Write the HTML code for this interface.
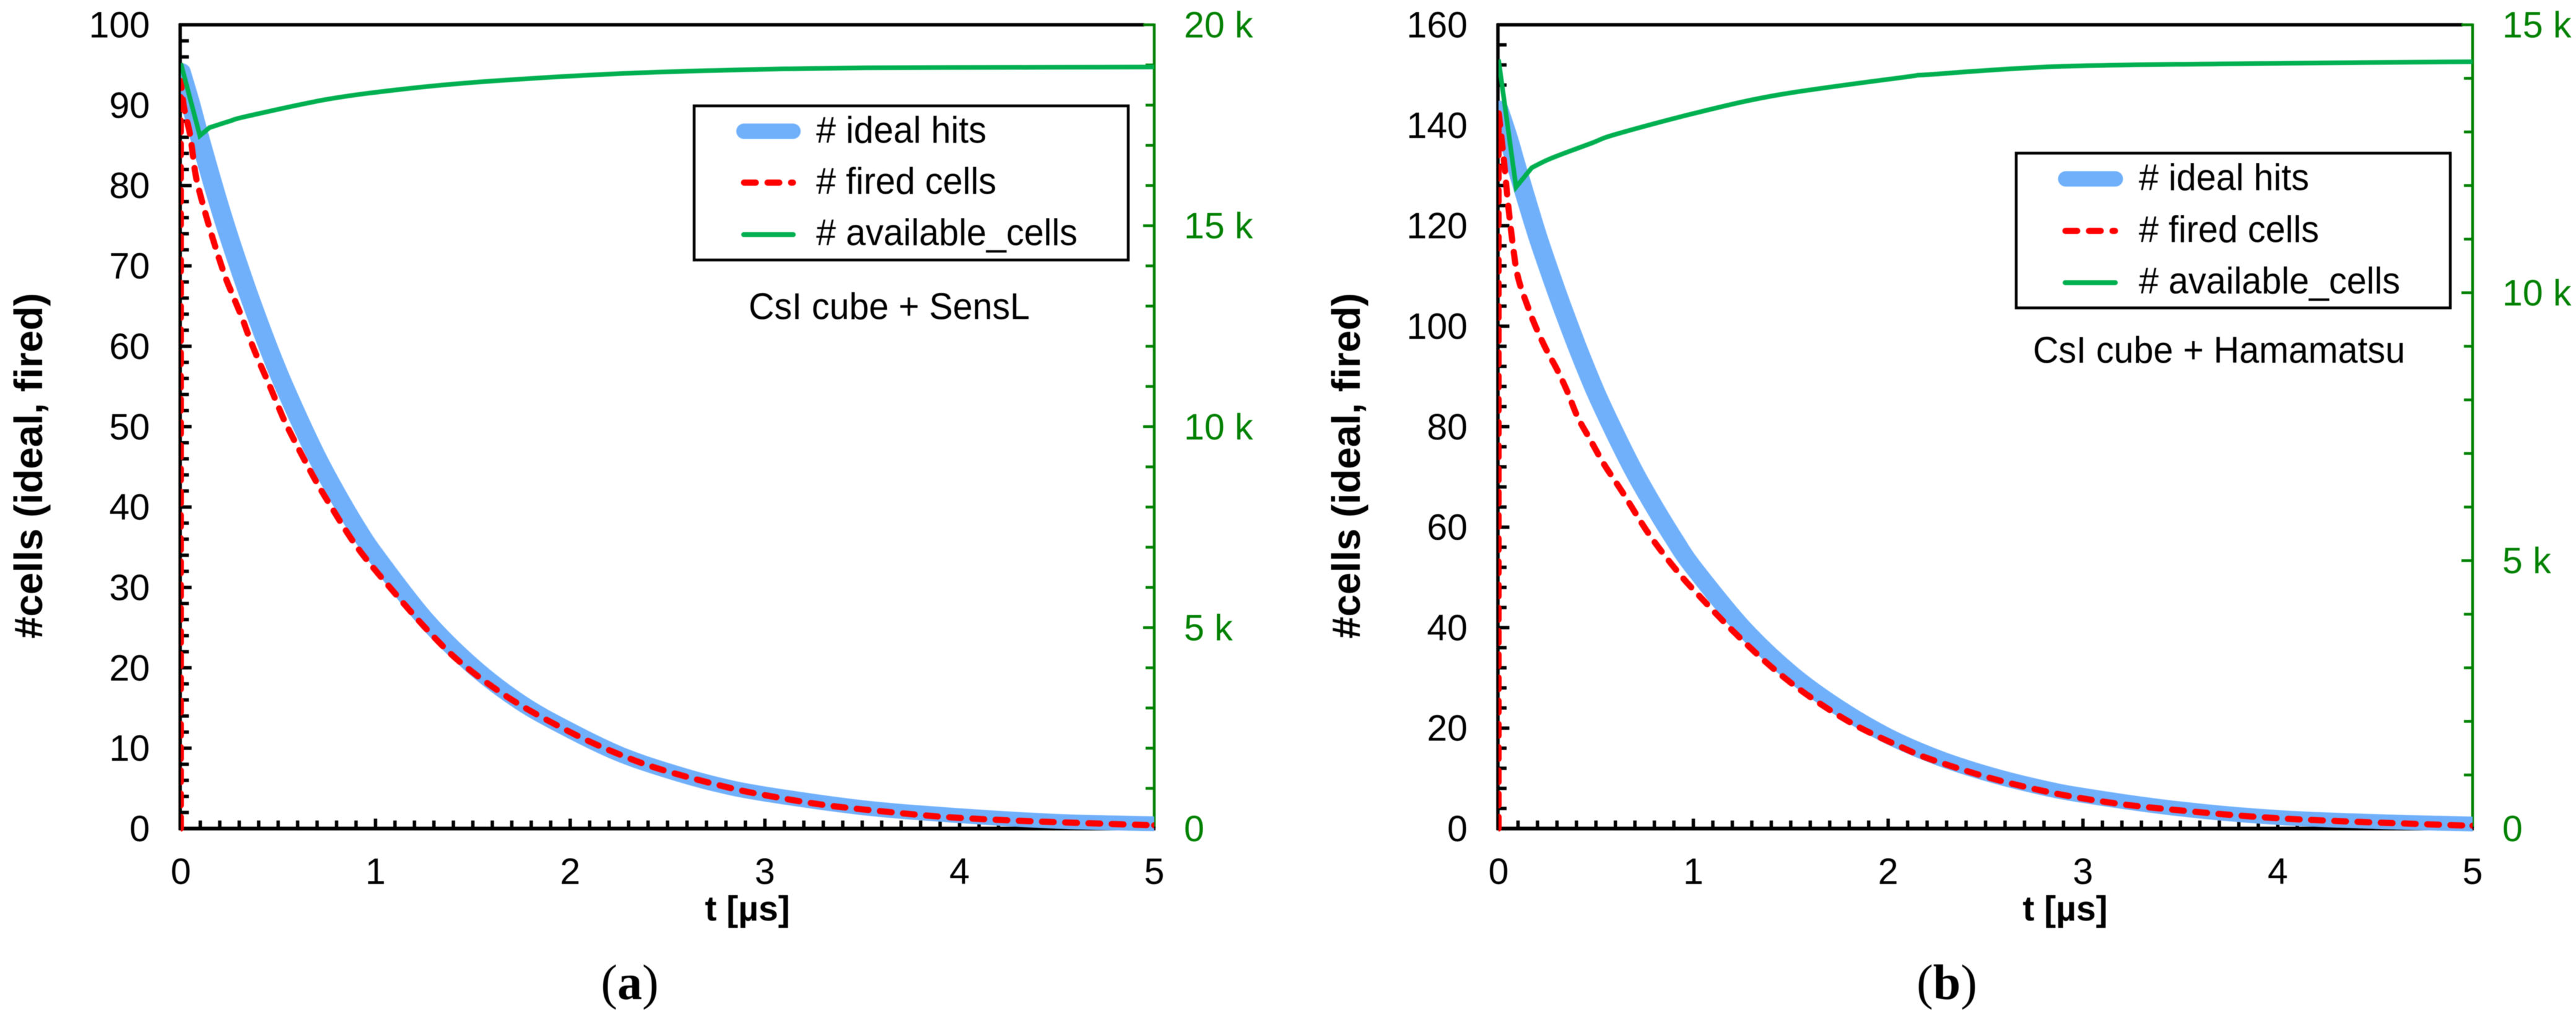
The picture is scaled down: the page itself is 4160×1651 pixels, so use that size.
<!DOCTYPE html>
<html lang="en">
<head>
<meta charset="utf-8">
<title>Cell occupancy over time</title>
<style>
html,body{margin:0;padding:0;background:#fff;width:4160px;height:1651px;overflow:hidden}
svg{display:block;filter:blur(0.6px)}
text{font-family:"Liberation Sans",sans-serif}
.tick-text{font-size:59px;fill:#000}
.green-text{font-size:59px;fill:#008000}
.title{font-size:57px;font-weight:bold;fill:#000}
.ytitle{font-size:64px;font-weight:bold;fill:#000}
.leg{font-size:60px;fill:#000}
.cap{font-family:"Liberation Serif",serif;font-size:80px;fill:#000}
</style>
</head>
<body>
<svg xmlns="http://www.w3.org/2000/svg" width="4160" height="1651" viewBox="0 0 4160 1651">
  <rect width="4160" height="1651" fill="#fff"/>
  <defs>
    <clipPath id="clip-a"><rect x="292" y="30" width="1572" height="1320"/></clipPath>
    <clipPath id="clip-b"><rect x="2420" y="30" width="1573" height="1320"/></clipPath>
  </defs>

  <g id="panel-a">
    <line x1="289" y1="40" x2="1848" y2="40" stroke="#000" stroke-width="5.5"/>
    <line x1="291" y1="38" x2="291" y2="1341" stroke="#000" stroke-width="5.5"/>
    <line x1="1864" y1="38" x2="1864" y2="1338" stroke="#008000" stroke-width="4.5"/>
    <line x1="289" y1="1338.5" x2="1866" y2="1338.5" stroke="#000" stroke-width="6"/>
    <g id="ticks-a"></g>
    <g id="series-a" clip-path="url(#clip-a)"></g>
    <text class="title" x="1207" y="1487" text-anchor="middle">t [µs]</text>
    <text class="ytitle" transform="translate(68 752.5) rotate(-90)" text-anchor="middle">#cells (ideal, fired)</text>
    <g>
      <rect x="1121" y="171" width="701" height="249" fill="#fff" stroke="#000" stroke-width="4.5"/>
      <line x1="1201.5" y1="212" x2="1280.5" y2="212" stroke="#70b0fb" stroke-width="25" stroke-linecap="round"/>
      <line x1="1201.5" y1="295" x2="1280.5" y2="295" stroke="#ff0000" stroke-width="10" stroke-linecap="round" stroke-dasharray="19 19"/>
      <line x1="1201" y1="379" x2="1281" y2="379" stroke="#00b050" stroke-width="8" stroke-linecap="round"/>
      <text class="leg" x="1318" y="230.5" textLength="275" lengthAdjust="spacingAndGlyphs"># ideal hits</text>
      <text class="leg" x="1318" y="313" textLength="291" lengthAdjust="spacingAndGlyphs"># fired cells</text>
      <text class="leg" x="1318" y="396" textLength="422" lengthAdjust="spacingAndGlyphs"># available_cells</text>
    </g>
    <text class="leg" x="1209" y="515.5" textLength="454" lengthAdjust="spacingAndGlyphs">CsI cube + SensL</text>
    <text class="cap" x="1017" y="1614" text-anchor="middle">(<tspan font-weight="bold">a</tspan>)</text>
  </g>

  <g id="panel-b">
    <line x1="2417" y1="40" x2="3977" y2="40" stroke="#000" stroke-width="5.5"/>
    <line x1="2419" y1="38" x2="2419" y2="1341" stroke="#000" stroke-width="5.5"/>
    <line x1="3993" y1="38" x2="3993" y2="1338" stroke="#008000" stroke-width="4.5"/>
    <line x1="2417" y1="1338.5" x2="3995" y2="1338.5" stroke="#000" stroke-width="6"/>
    <g id="ticks-b"></g>
    <g id="series-b" clip-path="url(#clip-b)"></g>
    <text class="title" x="3335" y="1487" text-anchor="middle">t [µs]</text>
    <text class="ytitle" transform="translate(2196 752.5) rotate(-90)" text-anchor="middle">#cells (ideal, fired)</text>
    <g>
      <rect x="3256" y="247.4" width="701" height="250" fill="#fff" stroke="#000" stroke-width="4.5"/>
      <line x1="3336" y1="289" x2="3416" y2="289" stroke="#70b0fb" stroke-width="25" stroke-linecap="round"/>
      <line x1="3335.5" y1="373" x2="3415.5" y2="373" stroke="#ff0000" stroke-width="10" stroke-linecap="round" stroke-dasharray="19 19"/>
      <line x1="3335" y1="456.6" x2="3416" y2="456.6" stroke="#00b050" stroke-width="8" stroke-linecap="round"/>
      <text class="leg" x="3454" y="307" textLength="275" lengthAdjust="spacingAndGlyphs"># ideal hits</text>
      <text class="leg" x="3454" y="391" textLength="291" lengthAdjust="spacingAndGlyphs"># fired cells</text>
      <text class="leg" x="3454" y="474" textLength="422" lengthAdjust="spacingAndGlyphs"># available_cells</text>
    </g>
    <text class="leg" x="3283" y="586" textLength="601" lengthAdjust="spacingAndGlyphs">CsI cube + Hamamatsu</text>
    <text class="cap" x="3144" y="1614" text-anchor="middle">(<tspan font-weight="bold">b</tspan>)</text>
  </g>
</svg>

<script>
// Shared x axis
const xTickValues = [0, 1, 2, 3, 4, 5];
const xTickLabels = ['0', '1', '2', '3', '4', '5'];

// Panel (a) axes
const leftTicksA = [0, 10, 20, 30, 40, 50, 60, 70, 80, 90, 100];
const rightTicksA = [0, 5000, 10000, 15000, 20000];
const rightLabelsA = ['0', '5 k', '10 k', '15 k', '20 k'];

// Panel (a) series
const idealTimesA = [0, 0.05, 0.1, 0.2, 0.3, 0.4, 0.5, 0.6, 0.7, 0.8, 0.9, 1, 1.25, 1.5, 1.75, 2, 2.25, 2.5, 2.75, 3, 3.5, 4, 4.5, 5];
const idealValuesA = [94.3, 90.2, 85.7, 77.3, 69.8, 63, 56.8, 51.3, 46.2, 41.7, 37.6, 34, 26.2, 20.2, 15.6, 12.2, 9.3, 7.2, 5.5, 4.3, 2.6, 1.6, 0.9, 0.6];
const firedTimesA = [0, 0, 0.016, 0.047, 0.063, 0.084, 0.147, 0.22, 0.264, 0.312, 0.353, 0.4, 0.449, 0.496, 0.547, 0.674, 0.758, 0.906, 1.095, 1.286, 1.455, 1.708, 2, 2.235, 2.46, 2.78, 2.99, 3.3, 3.62, 3.94, 4.36, 4.97, 5];
const firedValuesA = [0, 93, 89.8, 86.4, 83.6, 80.4, 74.8, 69.2, 66.5, 63.7, 61, 58.2, 55.5, 52.8, 50, 44.1, 40.6, 35, 29.4, 24.2, 20.3, 15.9, 12, 9.4, 7.4, 5.3, 4.2, 2.95, 2.1, 1.42, 0.92, 0.42, 0.4];
const availableTimesA = [0, 0.098, 0.147, 0.25, 0.337, 0.758, 1.18, 1.6, 2.235, 2.88, 3.52, 4.36, 5];
const availableValuesA = [19040, 17240, 17440, 17600, 17720, 18150, 18420, 18600, 18780, 18880, 18930, 18940, 18950];

// Panel (b) axes
const leftTicksB = [0, 20, 40, 60, 80, 100, 120, 140, 160];
const rightTicksB = [0, 5000, 10000, 15000];
const rightLabelsB = ['0', '5 k', '10 k', '15 k'];

// Panel (b) series
const idealTimesB = [0, 0.05, 0.1, 0.2, 0.3, 0.4, 0.5, 0.6, 0.7, 0.8, 0.9, 1, 1.25, 1.5, 1.75, 2, 2.25, 2.5, 2.75, 3, 3.5, 4, 4.5, 5];
const idealValuesB = [143.4, 137.5, 130.8, 118, 106.7, 96.3, 86.8, 78.5, 70.8, 64, 57.7, 52, 40.2, 31, 24, 18.4, 14.2, 11, 8.5, 6.6, 3.9, 2.2, 1.4, 0.9];
const firedTimesB = [0, 0, 0.026, 0.05, 0.074, 0.1, 0.152, 0.194, 0.247, 0.3, 0.353, 0.405, 0.468, 0.542, 0.637, 0.774, 0.922, 1.05, 1.217, 1.406, 1.596, 1.83, 2.08, 2.225, 2.54, 2.857, 3.17, 3.49, 3.91, 4.33, 4.96, 5];
const firedValuesB = [0, 142.8, 133.6, 124, 116, 109.7, 103.7, 99.6, 95.2, 91.4, 87, 82, 77.6, 72.5, 66.9, 58.5, 51, 45.5, 38.8, 32, 26.3, 20.6, 16, 13.7, 9.9, 7, 5, 3.65, 2.28, 1.46, 0.6, 0.55];
const availableTimesB = [0, 0.09, 0.17, 0.265, 0.477, 0.605, 1.03, 1.45, 2.08, 2.225, 2.86, 3.7, 5];
const availableValuesB = [14350, 11970, 12330, 12500, 12790, 12960, 13370, 13700, 14020, 14075, 14220, 14270, 14310];

const SVG_NS = 'http://www.w3.org/2000/svg';
const BLUE_PEN_STRETCH = 1.3;

function make(parent, tag, attrs, content) {
  const el = document.createElementNS(SVG_NS, tag);
  Object.keys(attrs).forEach(function (k) { el.setAttribute(k, attrs[k]); });
  if (content !== undefined) el.textContent = content;
  parent.appendChild(el);
  return el;
}

// Straight segments up to the kink index, then a smooth Catmull-Rom curve.
function curvePath(xs, ys, kink) {
  let d = 'M' + xs[0].toFixed(1) + ' ' + ys[0].toFixed(1);
  for (let i = 1; i <= kink; i++) d += 'L' + xs[i].toFixed(1) + ' ' + ys[i].toFixed(1);
  const n = xs.length;
  for (let i = kink; i < n - 1; i++) {
    const p0 = i === kink ? i : i - 1;
    const p3 = i + 2 < n ? i + 2 : n - 1;
    const c1x = xs[i] + (xs[i + 1] - xs[p0]) / 6;
    const c1y = ys[i] + (ys[i + 1] - ys[p0]) / 6;
    const c2x = xs[i + 1] - (xs[p3] - xs[i]) / 6;
    const c2y = ys[i + 1] - (ys[p3] - ys[i]) / 6;
    d += 'C' + c1x.toFixed(1) + ' ' + c1y.toFixed(1) + ' ' + c2x.toFixed(1) + ' ' + c2y.toFixed(1) + ' ' + xs[i + 1].toFixed(1) + ' ' + ys[i + 1].toFixed(1);
  }
  return d;
}

function drawPanel(cfg) {
  const x = function (t) { return cfg.x0 + (t / 5) * (cfg.x1 - cfg.x0); };
  const yL = function (v) { return cfg.yBottom - (v / cfg.leftMax) * (cfg.yBottom - cfg.yTop); };
  const yR = function (v) { return cfg.yBottom - (v / cfg.rightMax) * (cfg.yBottom - cfg.yTop); };
  const ticks = document.getElementById(cfg.ticksId);
  const series = document.getElementById(cfg.seriesId);

  // X ticks and labels
  xTickValues.forEach(function (t, i) {
    if (i > 0 && i < xTickValues.length - 1) {
      const major = make(ticks, 'line', { x1: x(t), x2: x(t), y1: cfg.yBottom, y2: cfg.yBottom - 16, stroke: '#000', 'stroke-width': 5.5 });
      
      
    }
    const label = make(ticks, 'text', { x: x(t), y: 1428, 'text-anchor': 'middle', class: 'tick-text' }, xTickLabels[i]);
    
    
  });
  for (let k = 1; k < 50; k++) {
    if (k % 10 === 0) continue;
    const t = k / 10;
    const minor = make(ticks, 'line', { x1: x(t), x2: x(t), y1: cfg.yBottom, y2: cfg.yBottom - 13, stroke: '#000', 'stroke-width': 5.5 });
    
    
  }

  // Left ticks and labels
  cfg.leftTicks.forEach(function (v, i) {
    if (i > 0 && i < cfg.leftTicks.length - 1) {
      const major = make(ticks, 'line', { x1: cfg.x0, x2: cfg.x0 + 17.5, y1: yL(v), y2: yL(v), stroke: '#000', 'stroke-width': 5.5 });
      
      
    }
    const label = make(ticks, 'text', { x: cfg.x0 - 50, y: yL(v) + 20.5, 'text-anchor': 'end', class: 'tick-text' }, String(v));
    
    
    if (i < cfg.leftTicks.length - 1) {
      const step = (cfg.leftTicks[i + 1] - v) / 5;
      for (let m = 1; m < 5; m++) {
        const minor = make(ticks, 'line', { x1: cfg.x0, x2: cfg.x0 + 13, y1: yL(v + m * step), y2: yL(v + m * step), stroke: '#000', 'stroke-width': 5.5 });
        
        
      }
    }
  });

  // Right ticks and labels
  cfg.rightTicks.forEach(function (v, i) {
    if (i > 0) {
      const major = make(ticks, 'line', { x1: cfg.x1, x2: cfg.x1 - 18, y1: yR(v), y2: yR(v), stroke: '#008000', 'stroke-width': 4.5 });
      
      
    }
    const label = make(ticks, 'text', { x: cfg.x1 + 48, y: yR(v) + 20.5, class: 'green-text' }, cfg.rightLabels[i]);
    
    
    if (i < cfg.rightTicks.length - 1) {
      const step = (cfg.rightTicks[i + 1] - v) / 5;
      for (let m = 1; m < 5; m++) {
        const minor = make(ticks, 'line', { x1: cfg.x1, x2: cfg.x1 - 14, y1: yR(v + m * step), y2: yR(v + m * step), stroke: '#008000', 'stroke-width': 4.5 });
        
        
      }
    }
  });

  // The blue pen in the source is wider horizontally than vertically, so its x coordinates are drawn in a stretched group.
  const idealGroup = make(series, 'g', { transform: 'scale(' + BLUE_PEN_STRETCH + ' 1)' });
  
  
  const idealXs = cfg.idealT.map(function (t) { return x(t) / BLUE_PEN_STRETCH; });
  const idealYs = cfg.idealV.map(yL);
  const ideal = make(idealGroup, 'path', { d: curvePath(idealXs, idealYs, 0), fill: 'none', stroke: '#70b0fb', 'stroke-width': 24, 'stroke-linecap': 'round', 'stroke-linejoin': 'round' });
  
  

  const firedXs = cfg.firedT.map(x);
  const firedYs = cfg.firedV.map(yL);
  const fired = make(series, 'path', { d: curvePath(firedXs, firedYs, 1), fill: 'none', stroke: '#ff0000', 'stroke-width': 10, 'stroke-linecap': 'round', 'stroke-linejoin': 'round', 'stroke-dasharray': '19 18.5' });
  
  

  const availXs = cfg.availT.map(x);
  const availYs = cfg.availV.map(yR);
  const available = make(series, 'path', { d: curvePath(availXs, availYs, cfg.availKink), fill: 'none', stroke: '#00b050', 'stroke-width': 7.5, 'stroke-linecap': 'butt', 'stroke-linejoin': 'miter' });
  
  
}

drawPanel({
  ticksId: 'ticks-a', seriesId: 'series-a',
  x0: 292, x1: 1864, yTop: 40, yBottom: 1338.5,
  leftMax: 100, rightMax: 20000,
  leftTicks: leftTicksA, rightTicks: rightTicksA, rightLabels: rightLabelsA,
  idealT: idealTimesA, idealV: idealValuesA,
  firedT: firedTimesA, firedV: firedValuesA,
  availT: availableTimesA, availV: availableValuesA, availKink: 2
});

drawPanel({
  ticksId: 'ticks-b', seriesId: 'series-b',
  x0: 2420, x1: 3993, yTop: 40, yBottom: 1338.5,
  leftMax: 160, rightMax: 15000,
  leftTicks: leftTicksB, rightTicks: rightTicksB, rightLabels: rightLabelsB,
  idealT: idealTimesB, idealV: idealValuesB,
  firedT: firedTimesB, firedV: firedValuesB,
  availT: availableTimesB, availV: availableValuesB, availKink: 2
});
</script>
</body>
</html>
